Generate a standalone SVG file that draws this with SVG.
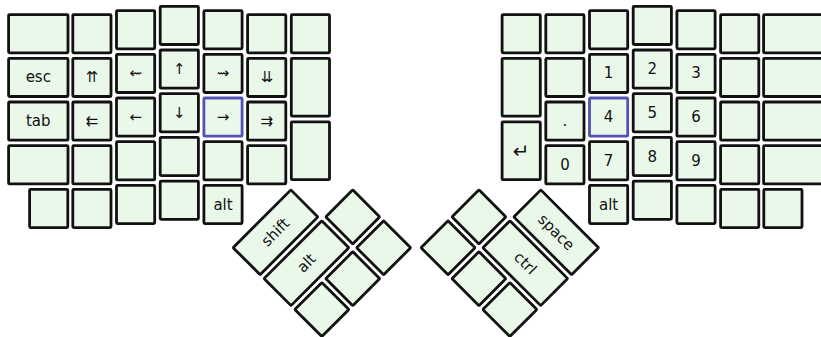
<svg xmlns="http://www.w3.org/2000/svg" width="821" height="337" viewBox="0 0 821 337">
<style>
.k{fill:#eaf8ea;stroke:#111;stroke-width:2.8;stroke-linejoin:miter}
.h{stroke:#5252b4}
text{font-family:"DejaVu Sans","Noto Sans",sans-serif;font-size:15px;text-anchor:middle;dominant-baseline:central;fill:#111}
.big{font-size:20px}
</style>
<rect width="821" height="337" fill="#fff"/>
<g id="connectors"/>
<g id="left-hand">
<g id="L00"><rect class="k" x="8.6" y="14.6" width="59.4" height="38.2" rx="1"/></g>
<g id="L01"><rect class="k" x="72.8" y="14.6" width="38.2" height="38.2" rx="1"/></g>
<g id="L02"><rect class="k" x="116.5" y="10.6" width="38.2" height="38.2" rx="1"/></g>
<g id="L03"><rect class="k" x="160.2" y="6.3" width="38.2" height="38.2" rx="1"/></g>
<g id="L04"><rect class="k" x="203.9" y="10.6" width="38.2" height="38.2" rx="1"/></g>
<g id="L05"><rect class="k" x="247.6" y="14.6" width="38.2" height="38.2" rx="1"/></g>
<g id="L06"><rect class="k" x="291.3" y="14.6" width="38.2" height="38.2" rx="1"/></g>

<g id="L10"><rect class="k" x="8.6" y="58.3" width="59.4" height="38.2" rx="1"/><text x="38.3" y="77.4">esc</text></g>
<g id="L11"><rect class="k" x="72.8" y="58.3" width="38.2" height="38.2" rx="1"/><text x="91.9" y="77.4">⇈</text></g>
<g id="L12"><rect class="k" x="116.5" y="54.3" width="38.2" height="38.2" rx="1"/><text x="135.6" y="73.4">⇜</text></g>
<g id="L13"><rect class="k" x="160.2" y="50" width="38.2" height="38.2" rx="1"/><text x="179.3" y="69.1">↑</text></g>
<g id="L14"><rect class="k" x="203.9" y="54.3" width="38.2" height="38.2" rx="1"/><text x="223" y="73.4">⇝</text></g>
<g id="L15"><rect class="k" x="247.6" y="58.3" width="38.2" height="38.2" rx="1"/><text x="266.7" y="77.4">⇊</text></g>
<g id="L16"><rect class="k" x="291.3" y="58.3" width="38.2" height="57.9" rx="1"/></g>

<g id="L20"><rect class="k" x="8.6" y="102" width="59.4" height="38.2" rx="1"/><text x="38.3" y="121.1">tab</text></g>
<g id="L21"><rect class="k" x="72.8" y="102" width="38.2" height="38.2" rx="1"/><text x="91.9" y="121.1">⇇</text></g>
<g id="L22"><rect class="k" x="116.5" y="98" width="38.2" height="38.2" rx="1"/><text x="135.6" y="117.1">←</text></g>
<g id="L23"><rect class="k" x="160.2" y="93.7" width="38.2" height="38.2" rx="1"/><text x="179.3" y="112.8">↓</text></g>
<g id="L24"><rect class="k h" x="203.9" y="98" width="38.2" height="38.2" rx="1"/><text x="223" y="117.1">→</text></g>
<g id="L25"><rect class="k" x="247.6" y="102" width="38.2" height="38.2" rx="1"/><text x="266.7" y="121.1">⇉</text></g>
<g id="L26"><rect class="k" x="291.3" y="121.8" width="38.2" height="57.9" rx="1"/></g>

<g id="L30"><rect class="k" x="8.6" y="145.7" width="59.4" height="38.2" rx="1"/></g>
<g id="L31"><rect class="k" x="72.8" y="145.7" width="38.2" height="38.2" rx="1"/></g>
<g id="L32"><rect class="k" x="116.5" y="141.7" width="38.2" height="38.2" rx="1"/></g>
<g id="L33"><rect class="k" x="160.2" y="137.4" width="38.2" height="38.2" rx="1"/></g>
<g id="L34"><rect class="k" x="203.9" y="141.7" width="38.2" height="38.2" rx="1"/></g>
<g id="L35"><rect class="k" x="247.6" y="145.7" width="38.2" height="38.2" rx="1"/></g>

<g id="L40"><rect class="k" x="29.6" y="189.4" width="38.2" height="38.2" rx="1"/></g>
<g id="L41"><rect class="k" x="72.8" y="189.4" width="38.2" height="38.2" rx="1"/></g>
<g id="L42"><rect class="k" x="116.5" y="185.4" width="38.2" height="38.2" rx="1"/></g>
<g id="L43"><rect class="k" x="160.2" y="181.1" width="38.2" height="38.2" rx="1"/></g>
<g id="L44"><rect class="k" x="203.9" y="185.4" width="38.2" height="38.2" rx="1"/><text x="223" y="204.5">alt</text></g>
</g>

<g id="left-thumb" transform="translate(275.5,232.3) rotate(45)">
<g id="LT-shift"><rect class="k" x="-19.1" y="-40.85" width="38.2" height="81.7" rx="1"/><text transform="rotate(-90)">shift</text></g>
<g id="LT-alt"><rect class="k" x="24.6" y="-40.85" width="38.2" height="81.7" rx="1"/><text transform="translate(43.7,0) rotate(-90)">alt</text></g>
<g id="LT-a"><rect class="k" x="24.6" y="-84.65" width="38.2" height="38.2" rx="1"/></g>
<g id="LT-b"><rect class="k" x="68.3" y="-84.65" width="38.2" height="38.2" rx="1"/></g>
<g id="LT-c"><rect class="k" x="68.3" y="-40.95" width="38.2" height="38.2" rx="1"/></g>
<g id="LT-d"><rect class="k" x="68.3" y="2.75" width="38.2" height="38.2" rx="1"/></g>
</g>

<g id="right-hand">
<g id="R00"><rect class="k" x="502.1" y="14.6" width="38.2" height="38.2" rx="1"/></g>
<g id="R01"><rect class="k" x="545.8" y="14.6" width="38.2" height="38.2" rx="1"/></g>
<g id="R02"><rect class="k" x="589.5" y="10.6" width="38.2" height="38.2" rx="1"/></g>
<g id="R03"><rect class="k" x="633.2" y="6.3" width="38.2" height="38.2" rx="1"/></g>
<g id="R04"><rect class="k" x="676.9" y="10.6" width="38.2" height="38.2" rx="1"/></g>
<g id="R05"><rect class="k" x="720.6" y="14.6" width="38.2" height="38.2" rx="1"/></g>
<g id="R06"><rect class="k" x="763.6" y="14.6" width="59.4" height="38.2" rx="1"/></g>

<g id="R10"><rect class="k" x="502.1" y="58.3" width="38.2" height="57.9" rx="1"/></g>
<g id="R11"><rect class="k" x="545.8" y="58.3" width="38.2" height="38.2" rx="1"/></g>
<g id="R12"><rect class="k" x="589.5" y="54.3" width="38.2" height="38.2" rx="1"/><text x="608.6" y="73.4">1</text></g>
<g id="R13"><rect class="k" x="633.2" y="50" width="38.2" height="38.2" rx="1"/><text x="652.3" y="69.1">2</text></g>
<g id="R14"><rect class="k" x="676.9" y="54.3" width="38.2" height="38.2" rx="1"/><text x="696" y="73.4">3</text></g>
<g id="R15"><rect class="k" x="720.6" y="58.3" width="38.2" height="38.2" rx="1"/></g>
<g id="R16"><rect class="k" x="763.6" y="58.3" width="59.4" height="38.2" rx="1"/></g>

<g id="R20"><rect class="k" x="502.1" y="121.8" width="38.2" height="57.9" rx="1"/><text class="big" x="521.2" y="150.75">↵</text></g>
<g id="R21"><rect class="k" x="545.8" y="102" width="38.2" height="38.2" rx="1"/><text x="564.9" y="121.1">.</text></g>
<g id="R22"><rect class="k h" x="589.5" y="98" width="38.2" height="38.2" rx="1"/><text x="608.6" y="117.1">4</text></g>
<g id="R23"><rect class="k" x="633.2" y="93.7" width="38.2" height="38.2" rx="1"/><text x="652.3" y="112.8">5</text></g>
<g id="R24"><rect class="k" x="676.9" y="98" width="38.2" height="38.2" rx="1"/><text x="696" y="117.1">6</text></g>
<g id="R25"><rect class="k" x="720.6" y="102" width="38.2" height="38.2" rx="1"/></g>
<g id="R26"><rect class="k" x="763.6" y="102" width="59.4" height="38.2" rx="1"/></g>

<g id="R31"><rect class="k" x="545.8" y="145.7" width="38.2" height="38.2" rx="1"/><text x="564.9" y="164.8">0</text></g>
<g id="R32"><rect class="k" x="589.5" y="141.7" width="38.2" height="38.2" rx="1"/><text x="608.6" y="160.8">7</text></g>
<g id="R33"><rect class="k" x="633.2" y="137.4" width="38.2" height="38.2" rx="1"/><text x="652.3" y="156.5">8</text></g>
<g id="R34"><rect class="k" x="676.9" y="141.7" width="38.2" height="38.2" rx="1"/><text x="696" y="160.8">9</text></g>
<g id="R35"><rect class="k" x="720.6" y="145.7" width="38.2" height="38.2" rx="1"/></g>
<g id="R36"><rect class="k" x="763.6" y="145.7" width="59.4" height="38.2" rx="1"/></g>

<g id="R42"><rect class="k" x="589.5" y="185.4" width="38.2" height="38.2" rx="1"/><text x="608.6" y="204.5">alt</text></g>
<g id="R43"><rect class="k" x="633.2" y="181.1" width="38.2" height="38.2" rx="1"/></g>
<g id="R44"><rect class="k" x="676.9" y="185.4" width="38.2" height="38.2" rx="1"/></g>
<g id="R45"><rect class="k" x="720.6" y="189.4" width="38.2" height="38.2" rx="1"/></g>
<g id="R46"><rect class="k" x="763.8" y="189.4" width="38.2" height="38.2" rx="1"/></g>
</g>

<g id="right-thumb" transform="translate(556.2,232.3) rotate(-45)">
<g id="RT-space"><rect class="k" x="-19.1" y="-40.85" width="38.2" height="81.7" rx="1"/><text transform="rotate(90)">space</text></g>
<g id="RT-ctrl"><rect class="k" x="-62.8" y="-40.85" width="38.2" height="81.7" rx="1"/><text transform="translate(-43.7,0) rotate(90)">ctrl</text></g>
<g id="RT-a"><rect class="k" x="-62.8" y="-84.65" width="38.2" height="38.2" rx="1"/></g>
<g id="RT-b"><rect class="k" x="-106.5" y="-84.65" width="38.2" height="38.2" rx="1"/></g>
<g id="RT-c"><rect class="k" x="-106.5" y="-40.95" width="38.2" height="38.2" rx="1"/></g>
<g id="RT-d"><rect class="k" x="-106.5" y="2.75" width="38.2" height="38.2" rx="1"/></g>
</g>
</svg>
